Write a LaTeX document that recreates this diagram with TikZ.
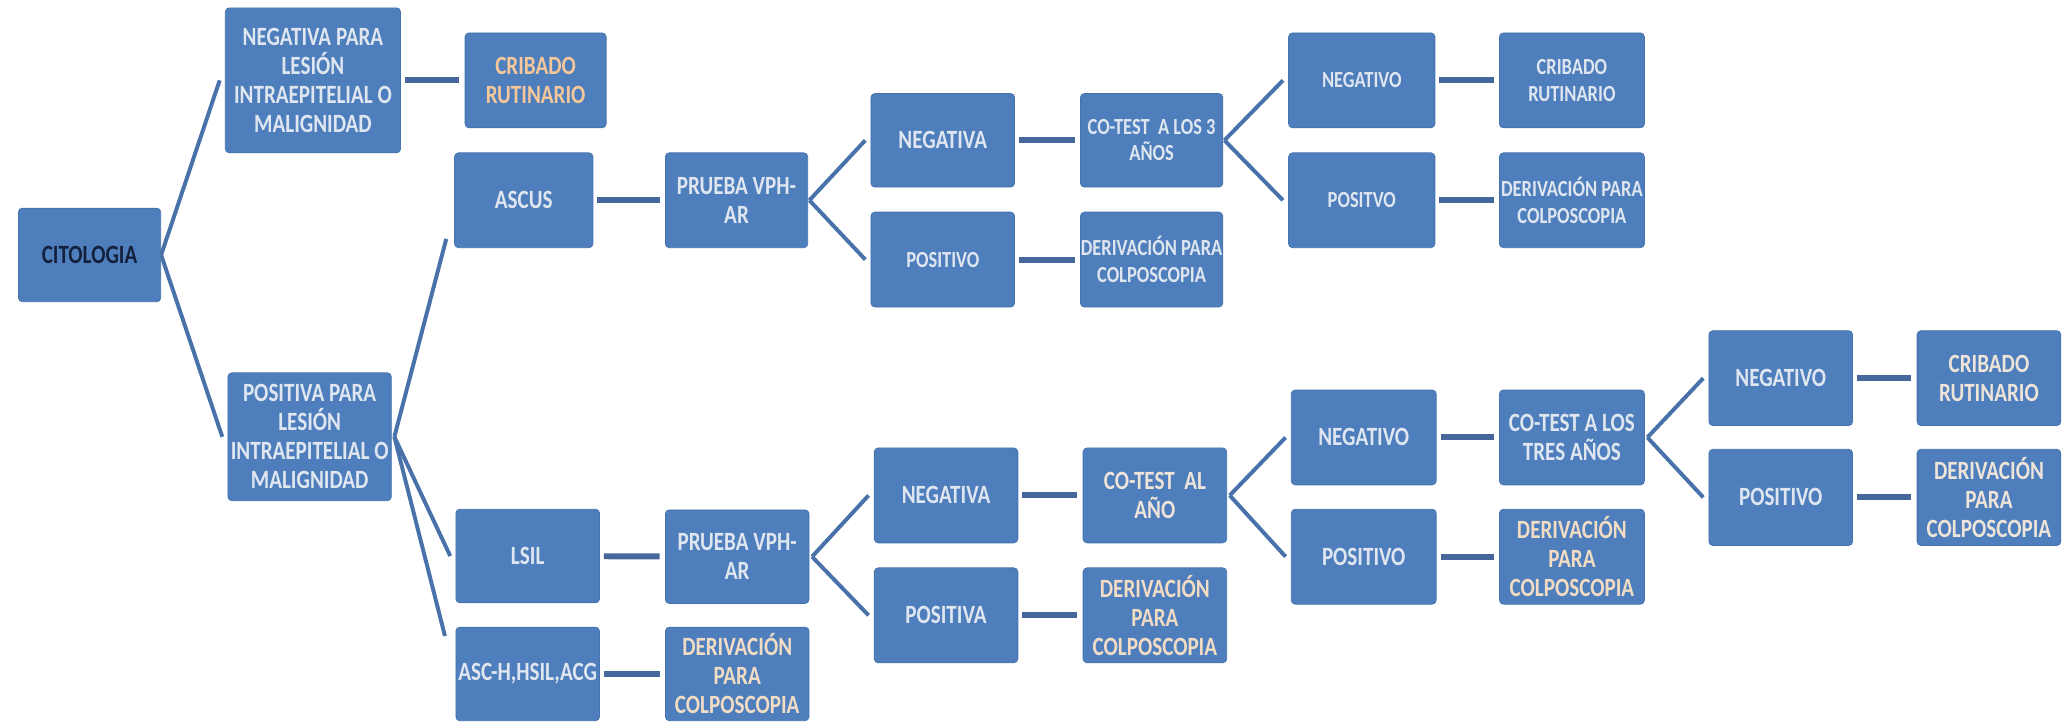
\documentclass[tikz,border=0pt]{standalone}
\usepackage{fontspec}
\newfontfamily\bxfont{Carlito}[FakeStretch=0.8]
\usetikzlibrary{calc}
\definecolor{boxfill}{HTML}{4E7FBC}
\definecolor{boxline}{HTML}{4573AE}
\definecolor{hcol}{HTML}{46679B}
\definecolor{dcol}{HTML}{4A72AA}
\definecolor{tW}{HTML}{DFE6F0}
\definecolor{tP}{HTML}{F3DCC4}
\definecolor{tL}{HTML}{EFE4D9}
\definecolor{tO}{HTML}{F6C79A}
\definecolor{tN}{HTML}{14213D}
\tikzset{
  box/.style={rectangle, rounded corners=3pt, fill=boxfill, draw=boxline, line width=0.6pt,
    inner sep=0pt, align=center, text=tW, minimum width=109pt, minimum height=71pt,
    font=\bxfont\bfseries\fontsize{20}{22}\selectfont},
  small/.style={font=\bxfont\bfseries\fontsize{17.5}{20}\selectfont},
  hline/.style={draw=hcol, line width=4.5pt, shorten <=3pt, shorten >=4pt},
  dline/.style={draw=dcol, line width=3pt},
}
\begin{document}
\begin{tikzpicture}[x=1pt,y=-1pt]
\useasboundingbox (0,0) rectangle (1568,548);

% column 0-1
\node[box, minimum width=108pt, text=tN] (cit) at (68,193.5) {CITOLOGIA};
\node[box, minimum width=133pt, minimum height=110pt] (negp) at (237.5,61) {NEGATIVA PARA\\LESIÓN\\INTRAEPITELIAL O\\MALIGNIDAD};
\node[box, minimum width=124pt, minimum height=97pt] (posp) at (235,331.5) {POSITIVA PARA\\LESIÓN\\INTRAEPITELIAL O\\MALIGNIDAD};

% column 2
\node[box, minimum width=107pt, minimum height=72pt, text=tO] (crib1) at (406.5,61) {CRIBADO\\RUTINARIO};
\node[box, minimum width=105pt, minimum height=72pt] (ascus) at (397.5,152) {ASCUS};
\node[box] (lsil) at (400.5,422) {LSIL};
\node[box] (asch) at (400.5,511.5) {ASC-H,HSIL,ACG};

% column 3
\node[box, minimum width=108pt, minimum height=72pt] (prueba1) at (559,152) {PRUEBA VPH-\\AR};
\node[box] (prueba2) at (559.5,422.5) {PRUEBA VPH-\\AR};
\node[box, text=tP] (der3) at (559.5,511.5) {DERIVACIÓN\\PARA\\COLPOSCOPIA};

% column 4
\node[box] (nega1) at (715.5,106.5) {NEGATIVA};
\node[box, small, minimum height=72pt] (posi1) at (715.5,197) {POSITIVO};
\node[box, minimum height=72pt] (nega2) at (718,376) {NEGATIVA};
\node[box, minimum height=72pt] (posa) at (718,467) {POSITIVA};

% column 5
\node[box, small, minimum width=108pt] (cot3) at (874,106.5) {CO-TEST\ \ A LOS 3\\AÑOS};
\node[box, small, minimum width=108pt, minimum height=72pt] (der1) at (874,197) {DERIVACIÓN PARA\\COLPOSCOPIA};
\node[box, minimum height=72pt, text=tL] (cot1) at (876.5,376) {CO-TEST\ \ AL\\AÑO};
\node[box, minimum height=72pt, text=tP] (der4) at (876.5,467) {DERIVACIÓN\\PARA\\COLPOSCOPIA};

% column 6
\node[box, small, minimum width=111pt, minimum height=72pt] (neg2) at (1033.5,61) {NEGATIVO};
\node[box, small, minimum width=111pt, minimum height=72pt] (pos2) at (1033.5,152) {POSITVO};
\node[box, minimum width=110pt, minimum height=72pt] (neg3) at (1035,332) {NEGATIVO};
\node[box, minimum width=110pt, minimum height=72pt] (pos3) at (1035,422.5) {POSITIVO};

% column 7
\node[box, small, minimum width=110pt, minimum height=72pt] (crib2) at (1193,61) {CRIBADO\\RUTINARIO};
\node[box, small, minimum width=110pt, minimum height=72pt] (der2) at (1193,152) {DERIVACIÓN PARA\\COLPOSCOPIA};
\node[box, minimum width=110pt, minimum height=72pt] (cottres) at (1193,332) {CO-TEST A LOS\\TRES AÑOS};
\node[box, minimum width=110pt, minimum height=72pt, text=tP] (der5) at (1193,422.5) {DERIVACIÓN\\PARA\\COLPOSCOPIA};

% column 8-9
\node[box, minimum width=109pt, minimum height=72pt] (neg4) at (1351.5,287) {NEGATIVO};
\node[box, minimum width=109pt, minimum height=73pt] (pos4) at (1351.5,377.5) {POSITIVO};
\node[box, minimum width=109pt, minimum height=72pt, text=tL] (crib3) at (1509.5,287) {CRIBADO\\RUTINARIO};
\node[box, minimum width=109pt, minimum height=73pt, text=tL] (der6) at (1509.5,377.5) {DERIVACIÓN\\PARA\\COLPOSCOPIA};

% diagonal connectors
\draw[dline] (cit.east) -- ($(negp.west)+(-4,0)$);
\draw[dline] (cit.east) -- ($(posp.west)+(-4,0)$);
\draw[dline] ($(posp.east)+(2,0)$) -- ($(ascus.south west)+(-6,-7)$);
\draw[dline] ($(posp.east)+(2,0)$) -- ($(lsil.west)+(-4,0)$);
\draw[dline] ($(posp.east)+(2,0)$) -- ($(asch.north west)+(-8,7)$);
\draw[dline] ($(prueba1.east)+(1,0)$) -- ($(nega1.west)+(-4,0)$);
\draw[dline] ($(prueba1.east)+(1,0)$) -- ($(posi1.west)+(-4,0)$);
\draw[dline] ($(cot3.east)+(1,0)$) -- ($(neg2.west)+(-4,0)$);
\draw[dline] ($(cot3.east)+(1,0)$) -- ($(pos2.west)+(-4,0)$);
\draw[dline] ($(prueba2.east)+(2,0)$) -- ($(nega2.west)+(-4,0)$);
\draw[dline] ($(prueba2.east)+(2,0)$) -- ($(posa.west)+(-4,0)$);
\draw[dline] ($(cot1.east)+(2,0)$) -- ($(neg3.west)+(-4,0)$);
\draw[dline] ($(cot1.east)+(2,0)$) -- ($(pos3.west)+(-4,0)$);
\draw[dline] ($(cottres.east)+(2,0)$) -- ($(neg4.west)+(-4,0)$);
\draw[dline] ($(cottres.east)+(2,0)$) -- ($(pos4.west)+(-4,0)$);

% horizontal connectors
\draw[hline] (negp) -- (crib1);
\draw[hline] (ascus) -- (prueba1);
\draw[hline] (nega1) -- (cot3);
\draw[hline] (posi1) -- (der1);
\draw[hline] (neg2) -- (crib2);
\draw[hline] (pos2) -- (der2);
\draw[hline] (lsil) -- (prueba2);
\draw[hline] (asch) -- (der3);
\draw[hline] (nega2) -- (cot1);
\draw[hline] (posa) -- (der4);
\draw[hline] (neg3) -- (cottres);
\draw[hline] (pos3) -- (der5);
\draw[hline] (neg4) -- (crib3);
\draw[hline] (pos4) -- (der6);
\end{tikzpicture}
\end{document}
